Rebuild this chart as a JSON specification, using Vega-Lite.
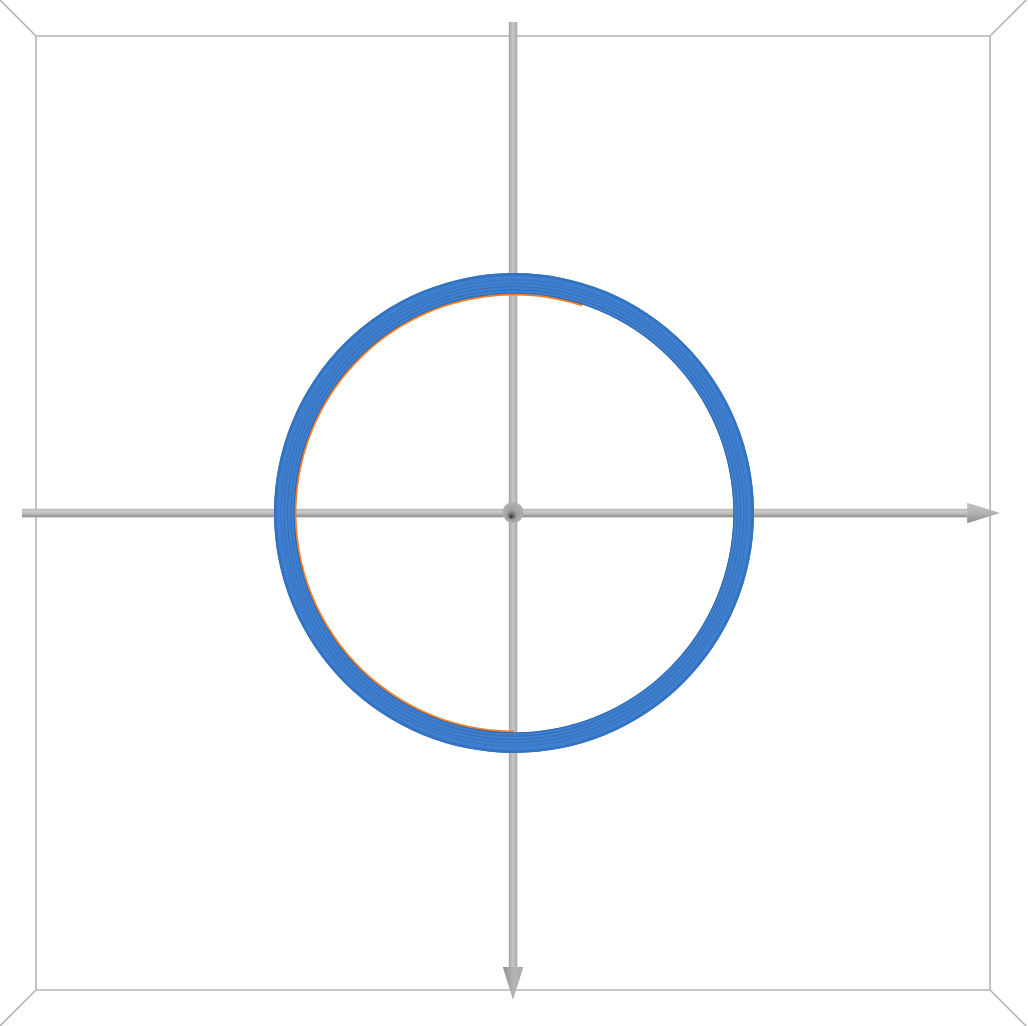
{
  "$schema": "https://vega.github.io/schema/vega-lite/v6.json",
  "width": 1028,
  "height": 1026,
  "padding": 0,
  "autosize": {"type": "none"},
  "background": "white",
  "config": {"view": {"stroke": null}},
  "datasets": {
    "box": [{"x": -2, "x2": 2, "y": -2, "y2": 2}],
    "diag": [
      {"g": "a", "x": -2, "y": 2}, {"g": "a", "x": -2.3, "y": 2.3},
      {"g": "b", "x": 2, "y": 2}, {"g": "b", "x": 2.3, "y": 2.3},
      {"g": "c", "x": -2, "y": -2}, {"g": "c", "x": -2.3, "y": -2.3},
      {"g": "d", "x": 2, "y": -2}, {"g": "d", "x": 2.3, "y": -2.3}
    ],
    "hrod": [{"x": -2.059, "x2": 1.904, "y": -0.0176, "y2": 0.0176}],
    "vrod": [{"x": -0.0176, "x2": 0.0176, "y": 2.059, "y2": -1.904}],
    "harrow": [{"x": 1.973, "y": 0}],
    "varrow": [{"x": 0, "y": -1.973}],
    "sphere": [{"x": 0, "y": 0.002}],
    "ring": [
      {"t0": 3.1416, "t1": 6.6, "r0": 0.912, "r1": 0.924, "c": "#ea7f2c"},
      {"t0": 0, "t1": 6.2832, "r0": 0.920, "r1": 1.006, "c": "#3e7fd0"},
      {"t0": 0, "t1": 6.2832, "r0": 0.995, "r1": 1.006, "c": "#3472c2"},
      {"t0": 0, "t1": 6.2832, "r0": 0.920, "r1": 0.924, "c": "#2f64a8"},
      {"t0": 0, "t1": 6.2832, "r0": 0.934, "r1": 0.937, "c": "#3468ab"},
      {"t0": 0, "t1": 6.2832, "r0": 0.948, "r1": 0.951, "c": "#3669ac"},
      {"t0": 0, "t1": 6.2832, "r0": 0.962, "r1": 0.965, "c": "#386eb2"},
      {"t0": 0, "t1": 6.2832, "r0": 0.976, "r1": 0.979, "c": "#3a72b8"}
    ]
  },
  "layer": [
    {
      "data": {"name": "box"},
      "mark": {"type": "rect", "fill": null, "stroke": "#b4b4b4", "strokeWidth": 1.6, "filled": false},
      "encoding": {
        "x": {"field": "x", "type": "quantitative", "scale": {"domain": [-2.151, 2.159], "nice": false, "zero": false}, "axis": null},
        "x2": {"field": "x2"},
        "y": {"field": "y", "type": "quantitative", "scale": {"domain": [-2.151, 2.151], "nice": false, "zero": false}, "axis": null},
        "y2": {"field": "y2"}
      }
    },
    {
      "data": {"name": "diag"},
      "mark": {"type": "line", "stroke": "#b4b4b4", "strokeWidth": 1.6, "clip": true},
      "encoding": {
        "x": {"field": "x", "type": "quantitative"},
        "y": {"field": "y", "type": "quantitative"},
        "detail": {"field": "g"}
      }
    },
    {
      "data": {"name": "hrod"},
      "mark": {"type": "rect", "fill": {"gradient": "linear", "x1": 0, "y1": 0, "x2": 0, "y2": 1, "stops": [{"offset": 0, "color": "#b8b8b8"}, {"offset": 0.35, "color": "#cbcbcb"}, {"offset": 0.7, "color": "#b0b0b0"}, {"offset": 1, "color": "#888888"}]}},
      "encoding": {
        "x": {"field": "x", "type": "quantitative"},
        "x2": {"field": "x2"},
        "y": {"field": "y", "type": "quantitative"},
        "y2": {"field": "y2"}
      }
    },
    {
      "data": {"name": "vrod"},
      "mark": {"type": "rect", "fill": {"gradient": "linear", "x1": 0, "y1": 0, "x2": 1, "y2": 0, "stops": [{"offset": 0, "color": "#a0a0a0"}, {"offset": 0.4, "color": "#c6c6c6"}, {"offset": 0.75, "color": "#bcbcbc"}, {"offset": 1, "color": "#a2a2a2"}]}},
      "encoding": {
        "x": {"field": "x", "type": "quantitative"},
        "x2": {"field": "x2"},
        "y": {"field": "y", "type": "quantitative"},
        "y2": {"field": "y2"}
      }
    },
    {
      "data": {"name": "harrow"},
      "mark": {"type": "point", "filled": true, "opacity": 1, "shape": "M -1 -0.62 L 1 0 L -1 0.62 Z", "size": 1089, "strokeWidth": 0, "fill": {"gradient": "linear", "x1": 0, "y1": 0, "x2": 0, "y2": 1, "stops": [{"offset": 0, "color": "#c4c4c4"}, {"offset": 0.5, "color": "#b2b2b2"}, {"offset": 1, "color": "#8c8c8c"}]}},
      "encoding": {
        "x": {"field": "x", "type": "quantitative"},
        "y": {"field": "y", "type": "quantitative"}
      }
    },
    {
      "data": {"name": "varrow"},
      "mark": {"type": "point", "filled": true, "opacity": 1, "shape": "M -0.62 -1 L 0.62 -1 L 0 1 Z", "size": 1089, "strokeWidth": 0, "fill": {"gradient": "linear", "x1": 0, "y1": 0, "x2": 1, "y2": 0, "stops": [{"offset": 0, "color": "#909090"}, {"offset": 0.55, "color": "#b6b6b6"}, {"offset": 1, "color": "#aaaaaa"}]}},
      "encoding": {
        "x": {"field": "x", "type": "quantitative"},
        "y": {"field": "y", "type": "quantitative"}
      }
    },
    {
      "data": {"name": "sphere"},
      "mark": {"type": "point", "shape": "circle", "filled": true, "opacity": 1, "size": 440, "strokeWidth": 0, "fill": {"gradient": "radial", "x1": 0.4, "y1": 0.72, "r1": 0, "x2": 0.5, "y2": 0.5, "r2": 0.55, "stops": [{"offset": 0, "color": "#222222"}, {"offset": 0.18, "color": "#6a6a6a"}, {"offset": 0.45, "color": "#a2a2a2"}, {"offset": 1, "color": "#b2b2b2"}]}},
      "encoding": {
        "x": {"field": "x", "type": "quantitative"},
        "y": {"field": "y", "type": "quantitative"}
      }
    },
    {
      "data": {"name": "ring"},
      "mark": {"type": "arc", "strokeWidth": 0},
      "encoding": {
        "theta": {"field": "t0", "type": "quantitative", "stack": null, "scale": {"type": "linear", "domain": [0, 6.2832], "range": [0, 6.2832], "zero": false, "nice": false}},
        "theta2": {"field": "t1"},
        "radius": {"field": "r1", "type": "quantitative", "scale": {"type": "linear", "domain": [0, 2.151], "range": [0, 513], "zero": true, "nice": false}},
        "radius2": {"field": "r0"},
        "color": {"field": "c", "type": "nominal", "scale": null, "legend": null}
      }
    }
  ]
}
